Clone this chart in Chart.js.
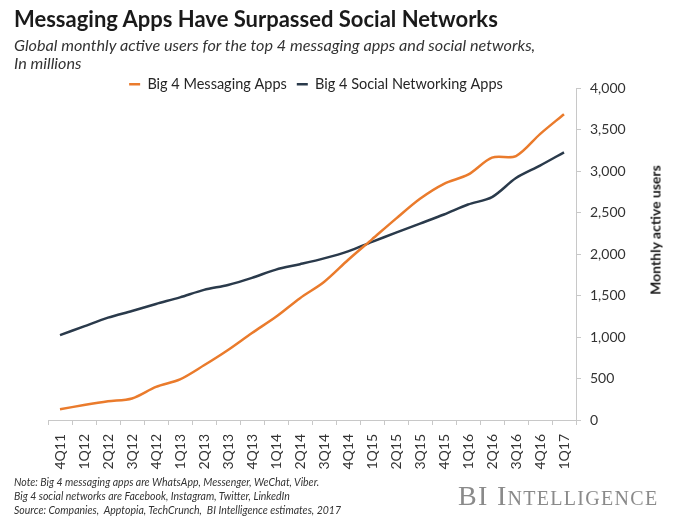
<!DOCTYPE html>
<html>
<head>
<meta charset="utf-8">
<script src="https://cdn.jsdelivr.net/npm/chart.js@4.4.1/dist/chart.umd.min.js"></script>
<style>
  html, body { margin: 0; padding: 0; background: #ffffff; }
  #wrap { position: relative; width: 685px; height: 525px; overflow: hidden; background: #fff; }
  #chart { position: absolute; left: 0; top: 0; }
  .txt { position: absolute; white-space: nowrap; color: #222; }
  #title { left: 14px; top: 5px; font: bold 22px Lato, "Open Sans", sans-serif; color: #1a1a1a; }
  #sub1 { left: 14px; top: 35px; font: italic 16.2px Lato, sans-serif; color: #333; }
  #sub2 { left: 14px; top: 53px; font: italic 16.2px Lato, sans-serif; color: #333; }
  #ytitle { left: 655px; top: 230px; transform: translate(-50%, -50%) rotate(-90deg); font: bold 14px Lato, sans-serif; color: #1a1a1a; }
  .note { left: 14px; font: italic 10.5px Lato, sans-serif; color: #333; }
  #brand { left: 458px; top: 480px; font: 28px "Liberation Serif", "DejaVu Serif", serif; font-variant: small-caps; color: #8a8a8a; letter-spacing: 1.3px; }
</style>
</head>
<body>
<div id="wrap">
  <canvas id="chart" width="685" height="525"></canvas>
  <div class="txt" id="title">Messaging Apps Have Surpassed Social Networks</div>
  <div class="txt" id="sub1">Global monthly active users for the top 4 messaging apps and social networks,</div>
  <div class="txt" id="sub2">In millions</div>
  <div class="txt" id="ytitle">Monthly active users</div>
  <div class="txt note" style="top:476px">Note: Big 4 messaging apps are WhatsApp, Messenger, WeChat, Viber.</div>
  <div class="txt note" style="top:490px">Big 4 social networks are Facebook, Instagram, Twitter, LinkedIn</div>
  <div class="txt note" style="top:504px">Source: Companies,&nbsp; Apptopia, TechCrunch,&nbsp; BI Intelligence estimates, 2017</div>
  <div class="txt" id="brand">BI Intelligence</div>
</div>
<script>
const quarters = ['4Q11','1Q12','2Q12','3Q12','4Q12','1Q13','2Q13','3Q13','4Q13','1Q14','2Q14','3Q14','4Q14','1Q15','2Q15','3Q15','4Q15','1Q16','2Q16','3Q16','4Q16','1Q17'];
const messagingApps = [130, 180, 225, 260, 400, 490, 660, 845, 1050, 1245, 1470, 1665, 1930, 2180, 2430, 2670, 2850, 2960, 3165, 3185, 3450, 3690];
const socialApps = [1025, 1130, 1235, 1315, 1400, 1480, 1570, 1630, 1715, 1815, 1880, 1950, 2035, 2150, 2260, 2370, 2480, 2600, 2690, 2920, 3070, 3230];
const yTickMin = 0;
const yTickMax = 4000;
const yTickStep = 500;

const ORANGE = '#EA7B2C';
const NAVY = '#2A3A4B';

const legendShift = {
  id: 'legendShift',
  afterLayout(chart) {
    const l = chart.legend;
    if (!l) return;
    const dx = 316 - (l.left + l.right) / 2;
    l.left += dx; l.right += dx;
    l.top += 13; l.bottom += 13;
  }
};

new Chart(document.getElementById('chart'), {
  type: 'line',
  data: {
    labels: quarters,
    datasets: [
      { label: 'Big 4 Messaging Apps', data: messagingApps, borderColor: ORANGE, backgroundColor: ORANGE,
        borderWidth: 2.5, pointRadius: 0, tension: 0.3, pointStyle: 'line' },
      { label: 'Big 4 Social Networking Apps', data: socialApps, borderColor: NAVY, backgroundColor: NAVY,
        borderWidth: 2.5, pointRadius: 0, tension: 0.3, pointStyle: 'line' }
    ]
  },
  options: {
    responsive: false,
    animation: false,
    devicePixelRatio: 1,
    layout: { padding: { left: 48, right: 49, top: 54, bottom: 55 } },
    plugins: {
      legend: {
        position: 'top',
        labels: {
          usePointStyle: true, pointStyleWidth: 11, boxHeight: 14, padding: 10,
          color: '#262626', font: { family: 'Lato', size: 14.5 }
        }
      },
      tooltip: { enabled: false },
      title: { display: false }
    },
    scales: {
      x: {
        offset: true,
        grid: { display: true, drawOnChartArea: false, drawTicks: true, tickLength: 5, color: '#c8c8c8', offset: true },
        border: { display: true, color: '#c8c8c8', width: 1 },
        ticks: { minRotation: 90, maxRotation: 90, autoSkip: false, padding: 9, color: '#333', font: { family: 'Lato', size: 14 } },
        afterFit(scale) { scale.height = 50; }
      },
      y: {
        position: 'right',
        min: yTickMin, max: yTickMax,
        grid: { display: true, drawOnChartArea: false, drawTicks: true, tickLength: 5, color: '#c8c8c8' },
        border: { display: true, color: '#c8c8c8', width: 1 },
        ticks: {
          stepSize: yTickStep, padding: 9, color: '#333', font: { family: 'Lato', size: 14 },
          callback: v => v.toLocaleString('en-US')
        },
        afterFit(scale) { scale.width = 60; }
      }
    }
  },
  plugins: [legendShift]
});
</script>
</body>
</html>
